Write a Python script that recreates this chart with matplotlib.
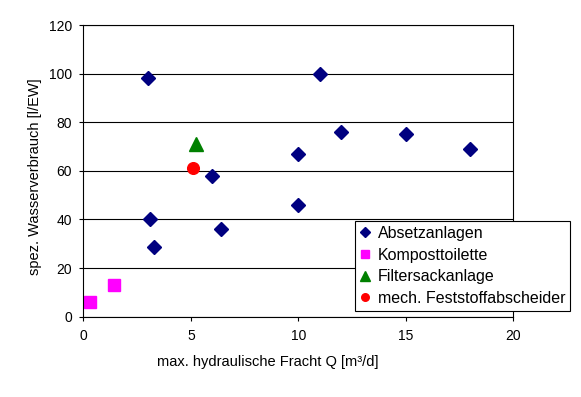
import matplotlib.pyplot as plt

plt.rcParams['font.family'] = ['Liberation Sans', 'DejaVu Sans']
plt.rcParams['font.size'] = 10

# Absetzanlagen
abs_x = [3.0, 11.0, 12.0, 6.0, 10.0, 10.0, 3.1, 6.4, 3.3, 15.0, 18.0]
abs_y = [98, 100, 76, 58, 67, 46, 40, 36, 28.6, 75, 69]

# Komposttoilette
komp_x = [0.3, 1.45]
komp_y = [6, 13]

# Filtersackanlage
filt_x = [5.25]
filt_y = [71]

# mech. Feststoffabscheider
mech_x = [5.1]
mech_y = [61]

fig = plt.figure(figsize=(5.81, 3.97), dpi=100)
ax = fig.add_axes([0.1434, 0.2023, 0.7401, 0.7347])

ax.plot(abs_x, abs_y, 'D', color='#000080', ms=7.5, ls='none', label='Absetzanlagen')
ax.plot(komp_x, komp_y, 's', color='#FF00FF', ms=9, ls='none', label='Komposttoilette')
ax.plot(filt_x, filt_y, '^', color='#008000', ms=10.3, ls='none', label='Filtersackanlage')
ax.plot(mech_x, mech_y, 'o', color='#FF0000', ms=8.4, ls='none', label='mech. Feststoffabscheider')

ax.set_xlim(0, 20)
ax.set_ylim(0, 120)
ax.set_xticks([0, 5, 10, 15, 20])
ax.set_yticks(range(0, 121, 20))
ax.yaxis.grid(True, color='black', linewidth=0.8)
ax.set_axisbelow(True)
for s in ax.spines.values():
    s.set_linewidth(0.8)
ax.tick_params(direction='out', length=3, width=0.8, pad=5, labelsize=10)
ax.tick_params(axis='x', pad=6)

ax.set_xlabel('max. hydraulische Fracht Q [m³/d]', fontsize=10.5)
ax.xaxis.set_label_coords(0.429, -0.13)
ax.set_ylabel('spez. Wasserverbrauch [l/EW]', fontsize=10.5)
ax.yaxis.set_label_coords(-0.095, 0.48)

leg = ax.legend(loc='upper left', bbox_to_anchor=(0.611, 0.4433), bbox_transform=fig.transFigure,
                borderaxespad=0, frameon=True, fancybox=False, markerscale=0.65, fontsize=11.5,
                handlelength=0.6, handletextpad=0.55, labelspacing=0.42, borderpad=0.3,
                edgecolor='black', framealpha=1)
leg.get_frame().set_linewidth(0.8)

fig.savefig('out.png', dpi=100)
